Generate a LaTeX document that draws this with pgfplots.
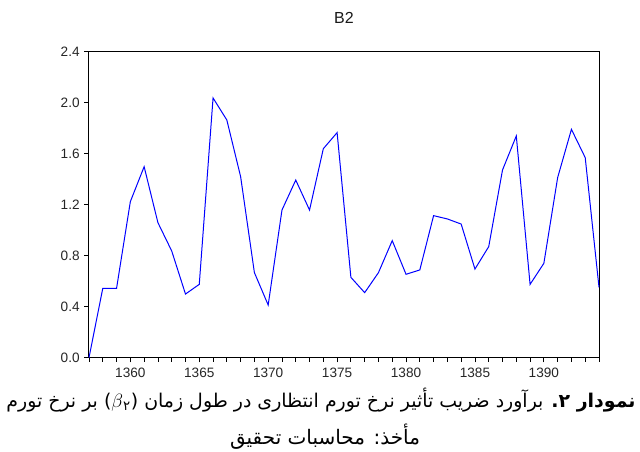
\documentclass[border=0pt]{standalone}
\usepackage{fontspec}
\usepackage{pgfplots}
\pgfplotsset{compat=1.18}
\setmainfont{Liberation Sans}
\newfontfamily\arabicfont[Script=Arabic]{DejaVu Sans}
\newfontfamily\latinfont{DejaVu Sans}
\TeXXeTstate=1

\begin{document}
\begin{tikzpicture}
\useasboundingbox (-66.75pt,-70pt) rectangle (413.25pt,268.25pt);
\begin{axis}[
  at={(0pt,0pt)}, anchor=south west,
  scale only axis, width=382.5pt, height=229.5pt,
  xmin=1357, xmax=1394, ymin=0, ymax=2.4,
  xtick={1360,1365,1370,1375,1380,1385,1390},
  minor xtick={1357,1358,...,1394},
  ytick={0,0.4,0.8,1.2,1.6,2.0,2.4},
  xtick pos=lower, ytick pos=left,
  tick align=outside,
  major tick length=3.5pt, minor tick length=3pt,
  yticklabel style={/pgf/number format/.cd, fixed, fixed zerofill, precision=1},
  xticklabel style={/pgf/number format/1000 sep={}, yshift=-1pt},
  /pgf/number format/assume math mode=true,
  tick label style={font=\fontsize{10.2}{12}\selectfont, text=black!85},
  axis line style={black, line width=0.75pt},
  every tick/.style={black, line width=0.6pt},
  clip=false,
]
\addplot[blue, line width=0.75pt, mark=none] coordinates {
(1357,0.0) (1358,0.544) (1359,0.544) (1360,1.224) (1361,1.498) (1362,1.059)
(1363,0.837) (1364,0.499) (1365,0.575) (1366,2.037) (1367,1.864) (1368,1.42)
(1369,0.667) (1370,0.413) (1371,1.158) (1372,1.393) (1373,1.158) (1374,1.639)
(1375,1.765) (1376,0.63) (1377,0.51) (1378,0.667) (1379,0.918) (1380,0.654)
(1381,0.688) (1382,1.114) (1383,1.088) (1384,1.048) (1385,0.695) (1386,0.871)
(1387,1.472) (1388,1.739) (1389,0.575) (1390,0.74) (1391,1.412) (1392,1.791)
(1393,1.569) (1394,0.552)
};
\end{axis}
\node[font=\fontsize{12}{14}\selectfont, text=black!90, anchor=base] at (191.25pt,250.8pt) {B2};
\node[font=\arabicfont\fontsize{14.2}{16}\selectfont] at (174pt,-31.7pt)
  {\beginR{\bfseries نمودار ۲.} برآورد ضریب تأثیر نرخ تورم انتظاری در طول زمان \beginL{\latinfont(}$\beta$\textsubscript{۲}{\latinfont)}\endL{} بر نرخ تورم\endR};
\node[font=\arabicfont\fontsize{15}{17}\selectfont] at (177pt,-59.5pt)
  {\beginR مأخذ: محاسبات تحقیق\endR};
\end{tikzpicture}
\end{document}
